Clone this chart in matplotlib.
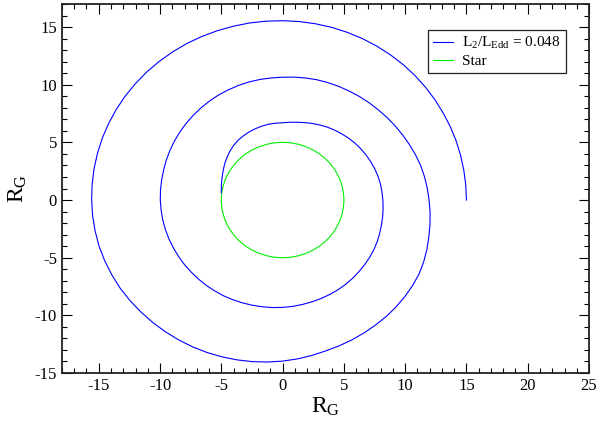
import numpy as np
import matplotlib
matplotlib.use("Agg")
import matplotlib.pyplot as plt
from matplotlib.patches import Circle
from matplotlib.lines import Line2D
from matplotlib.ticker import MultipleLocator

plt.rcParams['font.family'] = ['Liberation Serif', 'DejaVu Serif']
plt.rcParams['mathtext.fontset'] = 'custom'
plt.rcParams['mathtext.rm'] = 'Liberation Serif'
plt.rcParams['mathtext.it'] = 'Liberation Serif:italic'
plt.rcParams['axes.unicode_minus'] = False

# orbit: angle (deg, counter-clockwise from +x), radius (R_G)
orbit_theta = list(range(0, 891, 5)) + [893]
orbit_r = [
    15.0, 15.0, 15.01, 15.03, 15.06, 15.09, 15.12, 15.17, 15.22, 15.27,   # 0-45
    15.32, 15.36, 15.4, 15.44, 15.47, 15.5, 15.52, 15.54, 15.55,          # 50-90
    15.57, 15.59, 15.6, 15.62, 15.64, 15.66, 15.67, 15.68, 15.69,         # 95-135
    15.69, 15.69, 15.68, 15.67, 15.66, 15.64, 15.62, 15.6, 15.58,         # 140-180
    15.56, 15.53, 15.5, 15.44, 15.37, 15.3, 15.2, 15.1, 15.0,             # 185-225
    14.9, 14.8, 14.7, 14.59, 14.47, 14.35, 14.23, 14.1, 13.97,            # 230-270
    13.83, 13.69, 13.55, 13.46, 13.38, 13.3, 13.23, 13.17, 13.1,          # 275-315
    13.02, 12.94, 12.85, 12.7, 12.53, 12.35, 12.21, 12.08, 11.95,         # 320-360
    11.85, 11.75, 11.65, 11.53, 11.41, 11.3, 11.21, 11.13, 11.05,         # 365-405
    11.0, 10.95, 10.9, 10.87, 10.83, 10.8, 10.75, 10.7, 10.65,            # 410-450
    10.63, 10.62, 10.6, 10.57, 10.53, 10.5, 10.45, 10.4, 10.35,           # 455-495
    10.3, 10.25, 10.2, 10.15, 10.1, 10.05, 10.02, 10.0, 9.98,             # 500-540
    9.95, 9.93, 9.9, 9.87, 9.83, 9.8, 9.77, 9.73, 9.7,                    # 545-585
    9.67, 9.63, 9.6, 9.55, 9.5, 9.45, 9.4, 9.36, 9.31,                    # 590-630
    9.26, 9.2, 9.15, 9.1, 9.05, 9.0, 8.94, 8.87, 8.8,                     # 635-675
    8.73, 8.67, 8.6, 8.52, 8.43, 8.35, 8.29, 8.23, 8.18,                  # 680-720
    8.14, 8.1, 8.05, 7.99, 7.92, 7.85, 7.77, 7.69, 7.6,                   # 725-765
    7.5, 7.4, 7.3, 7.18, 7.07, 6.95, 6.85, 6.77, 6.7,                     # 770-810
    6.69, 6.67, 6.63, 6.57, 6.5, 6.42, 6.33, 6.2, 6.05,                   # 815-855
    5.88, 5.72, 5.55, 5.4, 5.27, 5.17, 5.08, 5.04,                        # 860-893
]
star_radius = 5.0
orbit_label = r'L$_2$/L$_\mathrm{Edd}$ = 0.048'
star_label = 'Star'

th = np.radians(orbit_theta)
x = np.array(orbit_r) * np.cos(th)
y = np.array(orbit_r) * np.sin(th)

fig = plt.figure(figsize=(6, 4.21), dpi=100)
ax = fig.add_axes([0.1033, 0.114, 0.8784, 0.8765])

ax.plot(x, y, color='#0000ff', lw=0.8)
ax.add_patch(Circle((0, 0), star_radius, fill=False, edgecolor='#00ee00', lw=0.8))

ax.set_xlim(-18, 25)
ax.set_ylim(-15, 17)
ax.xaxis.set_major_locator(MultipleLocator(5))
ax.xaxis.set_minor_locator(MultipleLocator(1))
ax.yaxis.set_major_locator(MultipleLocator(5))
ax.yaxis.set_minor_locator(MultipleLocator(1))
ax.tick_params(which='both', direction='in', top=True, right=True, width=0.8, labelsize=12)
ax.tick_params(which='major', length=7)
ax.tick_params(which='minor', length=3.6)
for s in ax.spines.values():
    s.set_linewidth(1.3)
    s.set_color('#222222')

ax.set_xlabel(r'R$_\mathrm{G}$', fontsize=17, labelpad=1)
ax.set_ylabel(r'R$_\mathrm{G}$', fontsize=17, labelpad=4)

handles = [Line2D([], [], color='#0000ff', lw=0.8),
           Line2D([], [], color='#00ee00', lw=0.8)]
leg = ax.legend(handles, [orbit_label, star_label], loc='upper right',
                bbox_to_anchor=(0.956, 0.93), borderaxespad=0, fontsize=11,
                fancybox=False, framealpha=1, edgecolor='#222222',
                handlelength=1.3, handletextpad=0.6, borderpad=0.35, labelspacing=0.2)
leg.get_frame().set_linewidth(0.9)

fig.savefig('out.png', dpi=100)
